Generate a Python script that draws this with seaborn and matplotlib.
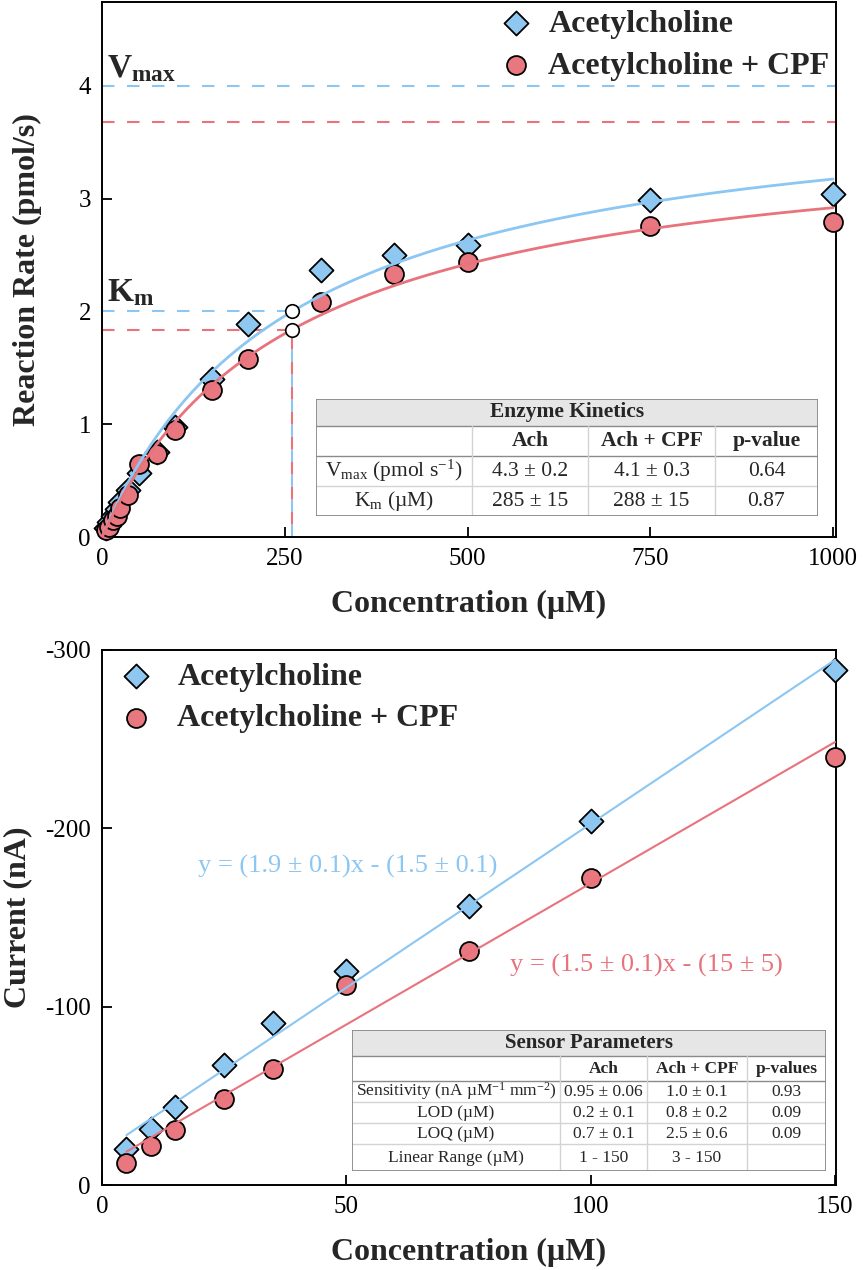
import numpy as np
import matplotlib
matplotlib.use("Agg")
import matplotlib.pyplot as plt
import seaborn as sns
from matplotlib.patches import Rectangle

# ---------------- data ----------------
label_ach = "Acetylcholine"
label_cpf = "Acetylcholine + CPF"

# Michaelis-Menten kinetics (reaction rate vs substrate concentration)
conc_mm = [5, 10, 15, 20, 25, 35, 50, 75, 100, 150, 200, 300, 400, 500, 750, 1000]
rate_ach = [0.08, 0.13, 0.19, 0.25, 0.31, 0.42, 0.57, 0.75, 0.98, 1.40, 1.89,
            2.37, 2.50, 2.59, 2.99, 3.04]
rate_cpf = [0.06, 0.09, 0.15, 0.19, 0.26, 0.37, 0.65, 0.74, 0.95, 1.30, 1.58,
            2.08, 2.33, 2.44, 2.76, 2.79]
vmax_ach, km_ach = 4.0, 260.0
vmax_cpf, km_cpf = 3.68, 260.0

# Amperometric calibration (current vs concentration)
conc_cal = [5, 10, 15, 25, 35, 50, 75, 100, 150]
current_ach = [-20, -31.5, -44, -67.5, -91, -120, -156.5, -204, -289]
current_cpf = [-12.5, -22, -31, -48, -65, -112, -131, -172, -240]

eq_ach = "y = (1.9 ± 0.1)x - (1.5 ± 0.1)"
eq_cpf = "y = (1.5 ± 0.1)x - (15 ± 5)"

# tick values / labels
mm_xticks = [0, 250, 500, 750, 1000]
mm_yticks = [0, 1, 2, 3, 4]
cal_xticks = [0, 50, 100, 150]
cal_yticks = [0, -100, -200, -300]
cal_yticklabels = ["0", "-100", "-200", "-300"]

# summary tables
kin_title = "Enzyme Kinetics"
kin_header = ["", "Ach", "Ach + CPF", "p-value"]
kin_rows = [
    [r"V$_{\mathrm{max}}$ (pmol s$^{\mathrm{-1}}$)", "4.3 ± 0.2", "4.1 ± 0.3", "0.64"],
    [r"K$_{\mathrm{m}}$ (µM)", "285 ± 15", "288 ± 15", "0.87"],
]
sens_title = "Sensor Parameters"
sens_header = ["", "Ach", "Ach + CPF", "p-values"]
sens_rows = [
    [r"Sensitivity (nA µM$^{\mathrm{-1}}$ mm$^{\mathrm{-2}}$)", "0.95 ± 0.06", "1.0 ± 0.1", "0.93"],
    ["LOD (µM)", "0.2 ± 0.1", "0.8 ± 0.2", "0.09"],
    ["LOQ (µM)", "0.7 ± 0.1", "2.5 ± 0.6", "0.09"],
    ["Linear Range (µM)", "1 - 150", "3 - 150", ""],
]

# ---------------- style ----------------
BLUE = "#8EC7F0"
RED = "#E8777F"
BLUE_LINE = "#8CC6F2"
RED_LINE = "#E8737C"

sns.set_theme(style="ticks")
plt.rcParams.update({
    "font.family": ["Liberation Serif", "DejaVu Sans"],
    "mathtext.fontset": "custom",
    "mathtext.rm": "Liberation Serif",
    "mathtext.it": "Liberation Serif:italic",
    "mathtext.bf": "Liberation Serif:bold",
    "axes.unicode_minus": False,
    "axes.linewidth": 1.4,
    "axes.edgecolor": "black",
    "xtick.color": "black",
    "ytick.color": "black",
})

W, H = 867, 1270
fig = plt.figure(figsize=(W / 100, H / 100), dpi=100)


def px_axes(x0, y0, x1, y1):
    return fig.add_axes([x0 / W, 1 - y1 / H, (x1 - x0) / W, (y1 - y0) / H])


def style_axes(ax):
    for sp in ax.spines.values():
        sp.set_visible(True)
        sp.set_linewidth(1.4)
        sp.set_color("black")
    ax.tick_params(direction="in", length=7, width=1.3, labelsize=18, pad=8,
                   colors="black")


def draw_table(box, col_edges, row_edges, title, header, rows,
               title_size, body_size):
    x0, y0, x1, y1 = box
    t = px_axes(x0, y0, x1, y1)
    t.set_xlim(x0, x1)
    t.set_ylim(y1, y0)
    t.axis("off")
    t.add_patch(Rectangle((x0, y0), x1 - x0, y1 - y0, facecolor="white",
                          edgecolor="none", zorder=0))
    t.add_patch(Rectangle((x0, row_edges[0]), x1 - x0, row_edges[1] - row_edges[0],
                          facecolor="#E6E6E6", edgecolor="none", zorder=1))
    dark, light = "#8A8A8A", "#D3D3D3"
    # horizontal rules
    for i, y in enumerate(row_edges[1:-1], start=1):
        c = dark if i <= 2 else light
        t.plot([x0, x1], [y, y], color=c, lw=1.0, zorder=2)
    # vertical rules below the title row
    for x in col_edges[1:-1]:
        t.plot([x, x], [row_edges[1], y1], color=light, lw=1.0, zorder=2)
    t.add_patch(Rectangle((x0, y0), x1 - x0, y1 - y0, facecolor="none",
                          edgecolor=dark, lw=1.3, zorder=3))
    t.text((x0 + x1) / 2, (row_edges[0] + row_edges[1]) / 2, title,
           ha="center", va="center", fontsize=title_size, fontweight="bold",
           zorder=4)
    for j, h in enumerate(header):
        t.text((col_edges[j] + col_edges[j + 1]) / 2,
               (row_edges[1] + row_edges[2]) / 2, h, ha="center", va="center",
               fontsize=body_size, fontweight="bold", zorder=4)
    for i, row in enumerate(rows):
        yc = (row_edges[i + 2] + row_edges[i + 3]) / 2
        for j, val in enumerate(row):
            t.text((col_edges[j] + col_edges[j + 1]) / 2, yc, val,
                   ha="center", va="center", fontsize=body_size, zorder=4)
    return t


marker_kw = dict(edgecolor="black", linewidth=1.3, clip_on=False)

# ---------------- top panel: Michaelis-Menten ----------------
ax1 = px_axes(102, 2, 836, 537)

dash = (6, 6)
ax1.axhline(vmax_ach, color=BLUE_LINE, lw=1.5, dashes=dash, zorder=1)
ax1.axhline(vmax_cpf, color=RED_LINE, lw=1.5, dashes=dash, zorder=1)
ax1.plot([0, km_ach], [vmax_ach / 2] * 2, color=BLUE_LINE, lw=1.5, dashes=dash, zorder=1)
ax1.plot([0, km_cpf], [vmax_cpf / 2] * 2, color=RED_LINE, lw=1.5, dashes=dash, zorder=1)
ax1.plot([km_ach, km_ach], [0, vmax_ach / 2], color=BLUE_LINE, lw=1.5,
         dashes=dash, zorder=1)
ax1.plot([km_cpf, km_cpf], [0, vmax_cpf / 2], color=RED_LINE, lw=1.5,
         dashes=(0, 6, 6, 0), zorder=1.1)

sns.scatterplot(x=conc_mm, y=rate_ach, marker="D", s=150, color=BLUE,
                label=label_ach, ax=ax1, zorder=3, **marker_kw)
sns.scatterplot(x=conc_mm, y=rate_cpf, marker="o", s=185, color=RED,
                label=label_cpf, ax=ax1, zorder=4, **marker_kw)

xs = np.linspace(0, 1000, 400)
sns.lineplot(x=xs, y=vmax_ach * xs / (km_ach + xs), color=BLUE_LINE, lw=2.0,
             ax=ax1, zorder=5, legend=False)
sns.lineplot(x=xs, y=vmax_cpf * xs / (km_cpf + xs), color=RED_LINE, lw=2.0,
             ax=ax1, zorder=5, legend=False)

ax1.scatter([km_ach, km_cpf], [vmax_ach / 2, vmax_cpf / 2], s=95,
            facecolor="white", edgecolor="black", linewidth=1.2, zorder=6)

ax1.text(7, 4.02, r"$\mathbf{V}_{\mathbf{max}}$", fontsize=24, ha="left",
         va="bottom", zorder=6)
ax1.text(7, 2.03, r"$\mathbf{K}_{\mathbf{m}}$", fontsize=24, ha="left",
         va="bottom", zorder=6)

ax1.set_xlim(0, 1004)
ax1.set_ylim(0, 4.745)
ax1.set_xticks(mm_xticks)
ax1.set_yticks(mm_yticks)
style_axes(ax1)
ax1.set_xlabel("Concentration (µM)", fontsize=23, fontweight="bold", labelpad=14)
ax1.set_ylabel("Reaction Rate (pmol/s)", fontsize=23, fontweight="bold", labelpad=26)
ax1.legend(loc="upper right", frameon=False, prop={"weight": "bold", "size": 23},
           handlelength=1.5, handletextpad=0.28, labelspacing=0.39,
           borderaxespad=0.1, bbox_to_anchor=(1.013, 1.016))

draw_table((316, 399, 818, 516), [316, 472, 588, 715, 818],
           [399, 426, 456, 486, 516], kin_title, kin_header, kin_rows, 15.5, 15.5)

# ---------------- bottom panel: calibration ----------------
ax2 = px_axes(102, 650, 836, 1185)

sns.scatterplot(x=conc_cal, y=current_ach, marker="D", s=150, color=BLUE,
                label=label_ach, ax=ax2, zorder=3, **marker_kw)
sns.scatterplot(x=conc_cal, y=current_cpf, marker="o", s=185, color=RED,
                label=label_cpf, ax=ax2, zorder=4, **marker_kw)
sns.regplot(x=np.array(conc_cal), y=np.array(current_ach), scatter=False, ci=None,
            color=BLUE_LINE, line_kws={"lw": 1.5, "zorder": 5}, ax=ax2)
sns.regplot(x=np.array(conc_cal), y=np.array(current_cpf), scatter=False, ci=None,
            color=RED_LINE, line_kws={"lw": 1.5, "zorder": 5}, ax=ax2)

ax2.text(0.131, 0.596, eq_ach, transform=ax2.transAxes, color=BLUE_LINE,
         fontsize=19, ha="left", va="center")
ax2.text(0.556, 0.411, eq_cpf, transform=ax2.transAxes, color=RED_LINE,
         fontsize=19, ha="left", va="center")

ax2.set_xlim(0, 150.2)
ax2.set_ylim(0, -300)
ax2.set_xticks(cal_xticks)
ax2.set_yticks(cal_yticks)
ax2.set_yticklabels(cal_yticklabels)
style_axes(ax2)
ax2.set_xlabel("Concentration (µM)", fontsize=23, fontweight="bold", labelpad=14)
ax2.set_ylabel("Current (nA)", fontsize=23, fontweight="bold", labelpad=9)
ax2.legend(loc="upper left", frameon=False, prop={"weight": "bold", "size": 23},
           handletextpad=0.3, labelspacing=0.39, borderaxespad=0.1,
           bbox_to_anchor=(-0.019, 1.007))

draw_table((352, 1030, 826, 1171), [352, 560, 647, 747, 826],
           [1030, 1056, 1081, 1102, 1123, 1144, 1171], sens_title, sens_header,
           sens_rows, 15, 12.5)

fig.savefig("out.png", dpi=100)
